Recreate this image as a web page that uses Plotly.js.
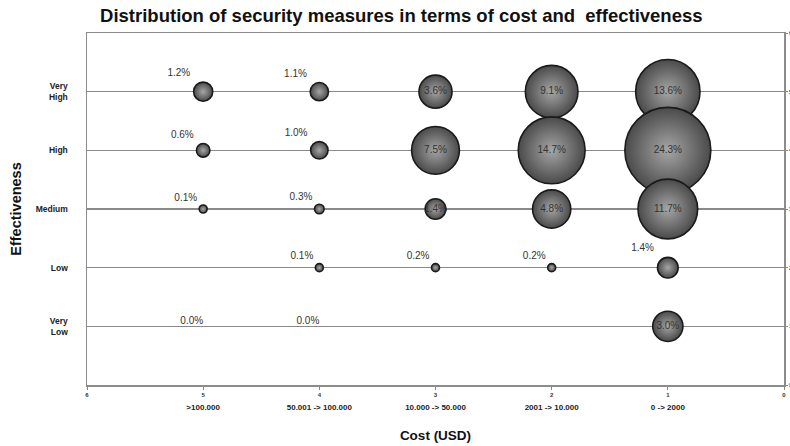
<!DOCTYPE html>
<html>
<head>
<meta charset="utf-8">
<script src="https://cdn.plot.ly/plotly-3.0.1.min.js"></script>
<style>
  html, body { margin: 0; padding: 0; background: #ffffff; }
  #chart { width: 790px; height: 446px; }
</style>
</head>
<body>
<div id="chart"></div>
<script>
// Cost classes (x position on a reversed 6..0 scale) and their labels
const costLevels = [5, 4, 3, 2, 1];
const costLabels = ['>100.000', '50.001 -> 100.000', '10.000 -> 50.000', '2001 -> 10.000', '0 -> 2000'];

// Effectiveness classes (y position) and their labels
const effLevels = [5, 4, 3, 2, 1];
const effLabels = ['Very<br>High', 'High', 'Medium', 'Low', 'Very<br>Low'];

// Share of security measures (%) per effectiveness row, one value per cost class
const veryHigh = [1.2, 1.1, 3.6, 9.1, 13.6];
const high     = [0.6, 1.0, 7.5, 14.7, 24.3];
const medium   = [0.1, 0.3, 1.4, 4.8, 11.7];
const low      = [null, 0.1, 0.2, 0.2, 1.4];
const veryLow  = [0.0, 0.0, null, null, 3.0];

const rows = [veryHigh, high, medium, low, veryLow];

// Build the point list row by row (top row first so lower rows overlap upper ones)
const xs = [], ys = [], vals = [], texts = [], positions = [];
rows.forEach((row, r) => {
  row.forEach((v, c) => {
    if (v === null) return;
    xs.push(costLevels[c]);
    ys.push(effLevels[r]);
    vals.push(v);
    texts.push(v.toFixed(1) + '%');
    // big bubbles carry their label inside; the medium/10.000-50.000 bubble too
    const inside = v >= 3 || (r === 2 && c === 2);
    positions.push(inside ? 'middle center' : 'top left');
  });
});

// largest bubble diameter in px; plotly's area mode uses 2*max/d^2
const maxDiameter = 86;
const sizeref = 2 * Math.max(...vals) / (maxDiameter * maxDiameter);

const bubbles = {
  type: 'scatter',
  mode: 'markers+text',
  x: xs,
  y: ys,
  text: texts,
  textposition: positions,
  textfont: { family: 'Liberation Sans, Arial, sans-serif', size: 10, color: '#333333' },
  cliponaxis: false,
  hoverinfo: 'skip',
  marker: {
    size: vals,
    sizemode: 'area',
    sizeref: sizeref,
    sizemin: 4,
    color: '#4a4a4a',
    gradient: { type: 'radial', color: '#a6a6a6' },
    line: { color: '#1a1a1a', width: 1.6 },
    opacity: 1
  },
  showlegend: false
};

// invisible trace so the secondary axes are drawn
const helper = {
  type: 'scatter', mode: 'markers', x: [null], y: [null],
  xaxis: 'x2', yaxis: 'y2', hoverinfo: 'skip', showlegend: false
};

const axisFont = 'Liberation Sans, Arial, sans-serif';

const layout = {
  width: 790,
  height: 446,
  margin: { l: 87, r: 6, t: 32.5, b: 61 },
  paper_bgcolor: '#ffffff',
  plot_bgcolor: '#ffffff',
  title: {
    text: '<b>Distribution of security measures in terms of cost and  effectiveness</b>',
    font: { family: axisFont, size: 18.5, color: '#111111' },
    x: 0.508, xanchor: 'center', xref: 'container',
    y: 0.966, yanchor: 'middle', yref: 'container'
  },
  xaxis: {
    range: [6, 0],
    tickmode: 'array',
    tickvals: [6, 5, 4, 3, 2, 1, 0],
    ticktext: ['6', '5', '4', '3', '2', '1', '0'],
    tickfont: { family: axisFont, size: 6, color: '#333333', weight: 'bold' },
    ticks: 'outside', ticklen: 3, tickcolor: '#888888', tickwidth: 1,
    showline: true, linecolor: '#8c8c8c', linewidth: 1.5, mirror: true,
    showgrid: false, zeroline: false,
    ticklabelstandoff: 0,
    title: {
      text: '<b>Cost (USD)</b>',
      font: { family: axisFont, size: 13.5, color: '#111111' },
      standoff: 34
    }
  },
  xaxis2: {
    overlaying: 'x',
    matches: 'x',
    side: 'bottom',
    anchor: 'y',
    range: [6, 0],
    tickmode: 'array',
    tickvals: costLevels,
    ticktext: costLabels,
    tickfont: { family: axisFont, size: 8, color: '#222222', weight: 'bold' },
    ticks: '', showline: false, showgrid: false, zeroline: false,
    ticklabelstandoff: 16
  },
  yaxis: {
    range: [0, 6],
    tickmode: 'array',
    tickvals: effLevels,
    ticktext: effLabels,
    tickfont: { family: axisFont, size: 8.5, color: '#222222', weight: 'bold' },
    ticks: '',
    ticklabelstandoff: 16,
    showline: true, linecolor: '#8c8c8c', linewidth: 1.5,
    showgrid: true, gridcolor: '#8a8a8a', gridwidth: 1.6,
    zeroline: false,
    title: {
      text: '<b>Effectiveness</b>',
      font: { family: axisFont, size: 14.5, color: '#111111' },
      standoff: 10
    }
  },
  yaxis2: {
    overlaying: 'y',
    matches: 'y',
    side: 'right',
    anchor: 'x',
    range: [0, 6],
    tickmode: 'array',
    tickvals: [0, 1, 2, 3, 4, 5, 6],
    tickfont: { family: axisFont, size: 6, color: '#333333' },
    ticks: 'outside', ticklen: 2, tickcolor: '#888888',
    showline: true, linecolor: '#8c8c8c', linewidth: 1.5,
    showgrid: false, zeroline: false
  },
  font: { family: axisFont }
};

Plotly.newPlot('chart', [bubbles, helper], layout, { displayModeBar: false, staticPlot: true });
</script>
</body>
</html>
